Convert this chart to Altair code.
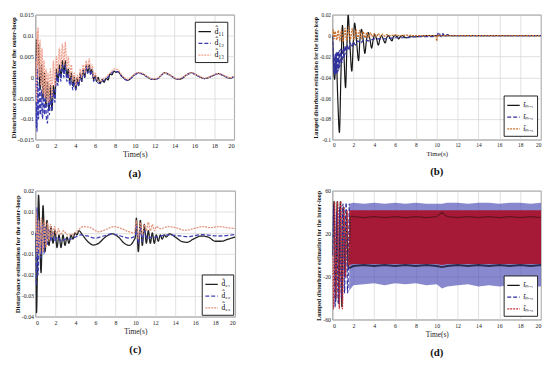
import altair as alt
import pandas as pd

FONT = "Liberation Serif"
X_TICKS = [0, 2, 4, 6, 8, 10, 12, 14, 16, 18, 20]

# ---------------- panel (a) ----------------
A_NAMES = ["d\u0302\u2081\u2081", "d\u0302\u2081\u2082", "d\u0302\u2081\u2083"]
A_YTICKS = [-0.015, -0.01, -0.005, 0, 0.005, 0.01, 0.015]
A_D11 = [(0, 0), (0.1, 0.009), (0.2, 0.003), (0.3, 0.008), (0.45, -0.003), (0.6, 0.003), (0.75, -0.005),
         (0.9, 0.001), (1.05, -0.007), (1.2, -0.001), (1.35, -0.008), (1.5, -0.002), (1.65, -0.008),
         (1.8, -0.002), (1.95, -0.005), (2.1, 0.002), (2.25, -0.001), (2.4, 0.003), (2.55, 0.0),
         (2.7, 0.004), (2.85, 0.001), (3.0, 0.004), (3.15, 0.0), (3.3, 0.002), (3.45, -0.001),
         (3.6, 0.001), (3.75, -0.002), (3.9, 0.0), (4.05, -0.003), (4.2, 0.0), (4.35, -0.002),
         (4.5, 0.001), (4.65, -0.001), (4.8, 0.002), (4.95, 0.0), (5.1, 0.003), (5.25, 0.001),
         (5.4, 0.003), (5.55, 0.001), (5.7, 0.002), (5.85, -0.0005), (6.0, 0.0005), (6.15, -0.001),
         (6.3, 0.0), (6.5, -0.0015), (6.7, -0.0005), (6.9, -0.0012), (7.1, -0.0003), (7.3, -0.0006),
         (7.5, 0.0008), (7.7, 0.0006), (7.9, 0.0015), (8.1, 0.0012), (8.3, 0.0014), (8.6, 0.0005),
         (9.0, -0.0004), (9.3, -0.0007), (9.6, -0.0002), (10.0, 0.0007), (10.4, 0.0011), (10.8, 0.0008),
         (11.3, 0.0), (11.8, -0.0005), (12.3, -0.0003), (12.6, 0.0004), (13.0, 0.0011), (13.5, 0.0006),
         (14.0, -0.0002), (14.3, -0.0005), (14.8, -0.0002), (15.2, 0.0006), (15.7, 0.0011), (16.3, 0.0004),
         (17.0, -0.0003), (17.5, 0.0), (18.0, 0.0006), (18.4, 0.0009), (19.0, 0.0003), (19.6, -0.0002),
         (20.0, 0.0002)]
A_D12 = [(0, 0), (0.05, -0.012), (0.1, 0.005), (0.15, -0.013), (0.2, 0.002), (0.3, -0.01), (0.4, -0.002),
         (0.5, -0.009), (0.6, -0.003), (0.7, -0.01), (0.8, -0.004), (0.9, -0.009), (1.0, -0.004),
         (1.1, -0.01), (1.2, -0.011), (1.3, -0.005), (1.4, -0.009), (1.5, -0.004), (1.65, -0.008),
         (1.8, -0.003), (1.95, -0.006), (2.1, 0.001), (2.25, -0.002), (2.4, 0.002), (2.55, -0.001),
         (2.7, 0.003), (2.85, 0.0), (3.0, 0.003), (3.15, -0.001), (3.3, 0.001), (3.45, -0.002),
         (3.6, 0.0), (3.75, -0.003), (3.9, -0.001), (4.05, -0.003), (4.2, -0.001), (4.35, -0.002),
         (4.5, 0.0005), (4.65, -0.001), (4.8, 0.0015), (4.95, 0.0), (5.1, 0.0025), (5.25, 0.001),
         (5.4, 0.0025), (5.55, 0.0005), (5.7, 0.0015), (5.85, -0.001), (6.0, 0.0), (6.2, -0.0012),
         (6.5, -0.0015), (6.8, -0.0008), (7.1, -0.0005), (7.5, 0.0007), (7.9, 0.0014), (8.3, 0.0013),
         (8.6, 0.0004), (9.0, -0.0005), (9.3, -0.0007), (9.6, -0.0002), (10.0, 0.0006), (10.4, 0.001),
         (10.8, 0.0007), (11.3, 0.0), (11.8, -0.0005), (12.3, -0.0003), (13.0, 0.001), (13.5, 0.0005),
         (14.3, -0.0005), (15.0, 0.0002), (15.7, 0.001), (16.3, 0.0004), (17.0, -0.0003), (18.4, 0.0008),
         (19.6, -0.0002), (20.0, 0.0002)]
A_D13 = [(0, 0), (0.05, 0.004), (0.1, -0.006), (0.15, 0.011), (0.2, 0.003), (0.25, 0.012), (0.35, 0.0),
         (0.45, 0.009), (0.55, -0.002), (0.65, 0.007), (0.75, -0.004), (0.85, 0.004), (0.95, -0.005),
         (1.05, 0.002), (1.15, -0.006), (1.25, 0.001), (1.35, -0.006), (1.5, 0.002), (1.65, -0.005),
         (1.8, 0.004), (1.95, -0.002), (2.1, 0.005), (2.25, 0.001), (2.4, 0.007), (2.55, 0.002),
         (2.7, 0.008), (2.85, 0.003), (3.0, 0.0085), (3.15, 0.002), (3.3, 0.005), (3.45, 0.0),
         (3.6, 0.003), (3.75, -0.001), (3.9, 0.001), (4.05, -0.002), (4.2, 0.0005), (4.35, -0.001),
         (4.5, 0.002), (4.65, 0.0), (4.8, 0.003), (4.95, 0.001), (5.1, 0.004), (5.25, 0.002),
         (5.4, 0.0045), (5.55, 0.002), (5.7, 0.003), (5.85, 0.0), (6.0, 0.001), (6.2, -0.0005),
         (6.5, -0.001), (6.8, -0.0003), (7.1, 0.0), (7.5, 0.001), (7.9, 0.002), (8.3, 0.0018),
         (8.6, 0.0008), (9.0, -0.0002), (9.3, -0.0005), (9.6, 0.0), (10.0, 0.0008), (10.4, 0.0012),
         (10.8, 0.0009), (11.3, 0.0001), (11.8, -0.0004), (12.3, -0.0002), (13.0, 0.0011), (13.5, 0.0006),
         (14.3, -0.0004), (15.0, 0.0003), (15.7, 0.0011), (16.3, 0.0005), (17.0, -0.0002), (18.4, 0.0009),
         (19.6, -0.0001), (20.0, 0.0003)]

# ---------------- panel (b) ----------------
B_NAMES = ["f\u0302\u2098\u2091\u2081", "f\u0302\u2098\u2091\u2082", "f\u0302\u2098\u2091\u2083"]
B_YTICKS = [-0.1, -0.08, -0.06, -0.04, -0.02, 0, 0.02]
B_F1 = [(0, 0), (0.1, -0.03), (0.2, -0.042), (0.35, -0.02), (0.5, -0.06), (0.66, -0.093), (0.8, -0.04),
        (0.95, 0.01), (1.1, -0.02), (1.25, -0.05), (1.38, -0.01), (1.5, 0.02), (1.65, -0.005),
        (1.85, -0.034), (2.0, -0.005), (2.12, 0.012), (2.3, -0.005), (2.5, -0.024), (2.62, -0.005),
        (2.78, 0.006), (2.95, -0.005), (3.1, -0.017), (3.25, -0.005), (3.42, 0.003), (3.6, -0.004),
        (3.75, -0.012), (3.9, -0.004), (4.05, 0.001), (4.22, -0.003), (4.4, -0.009), (4.55, -0.003),
        (4.7, 0.0), (4.85, -0.003), (5.05, -0.007), (5.2, -0.002), (5.35, 0.0), (5.5, -0.002),
        (5.7, -0.005), (5.85, -0.001), (6.0, 0.0), (6.2, -0.001), (6.35, -0.003), (6.5, -0.001),
        (6.7, 0.0), (7.0, -0.002), (7.5, -0.001), (8.0, -0.001), (9.0, 0.0), (10.0, 0.0), (20.0, 0.0)]
B_F2 = [(0, 0), (0.05, -0.01), (0.1, -0.035), (0.15, -0.02), (0.2, -0.038), (0.25, -0.018), (0.3, -0.037),
        (0.35, -0.016), (0.4, -0.036), (0.45, -0.015), (0.5, -0.035), (0.55, -0.015), (0.6, -0.033),
        (0.65, -0.014), (0.7, -0.03), (0.8, -0.013), (0.9, -0.026), (1.0, -0.012), (1.1, -0.022),
        (1.2, -0.01), (1.3, -0.018), (1.4, -0.009), (1.55, -0.014), (1.7, -0.007), (1.85, -0.011),
        (2.0, -0.006), (2.2, -0.009), (2.4, -0.005), (2.7, -0.007), (3.0, -0.004), (3.5, -0.005),
        (4.0, -0.003), (5.0, -0.003), (6.0, -0.002), (7.0, -0.002), (8.0, -0.001), (9.5, -0.001),
        (10.0, 0.0), (10.2, 0.003), (10.4, -0.001), (10.6, 0.002), (10.8, -0.001), (11.0, 0.001),
        (11.5, 0.0), (13.0, 0.0), (20.0, 0.0)]
B_F3 = [(0, 0), (0.05, 0.006), (0.15, -0.003), (0.25, 0.004), (0.4, -0.004), (0.55, 0.005), (0.7, -0.005),
        (0.85, 0.006), (1.0, -0.006), (1.2, 0.007), (1.35, -0.005), (1.55, 0.008), (1.7, -0.004),
        (1.9, 0.007), (2.05, -0.004), (2.25, 0.006), (2.4, -0.003), (2.6, 0.005), (2.75, -0.003),
        (2.95, 0.004), (3.1, -0.002), (3.3, 0.003), (3.45, -0.002), (3.65, 0.003), (3.8, -0.001),
        (4.0, 0.002), (4.2, -0.001), (4.4, 0.002), (4.6, -0.001), (4.8, 0.0015), (5.0, -0.0005),
        (5.2, 0.001), (5.5, 0.0), (6.0, 0.0008), (6.5, 0.0), (7.0, 0.0005), (8.0, 0.0), (9.9, 0.0),
        (10.0, -0.005), (10.1, 0.001), (10.3, 0.0), (20.0, 0.0)]

# ---------------- panel (c) ----------------
C_NAMES = ["d\u0302\u2082\u2081", "d\u0302\u2082\u2082", "d\u0302\u2082\u2083"]
C_YTICKS = [-0.04, -0.03, -0.02, -0.01, 0, 0.01, 0.02]
C_D21 = [(0, 0), (0.1, -0.038), (0.3, 0.018), (0.55, -0.019), (0.75, 0.013), (0.95, -0.009), (1.15, 0.006),
         (1.35, -0.006), (1.55, 0.003), (1.75, -0.005), (1.95, 0.001), (2.15, -0.007), (2.35, -0.001),
         (2.55, -0.007), (2.75, -0.001), (2.95, -0.006), (3.15, -0.002), (3.35, -0.005), (3.55, -0.001),
         (3.75, -0.003), (3.95, 0.0), (4.15, -0.001), (4.35, 0.001), (4.7, -0.001), (5.2, -0.004),
         (5.8, -0.0058), (6.3, -0.005), (7.0, -0.002), (7.7, -0.0005), (8.3, -0.002), (8.9, -0.005),
         (9.4, -0.006), (9.8, -0.004), (10.0, -0.002), (10.1, 0.007), (10.3, -0.009), (10.5, 0.006),
         (10.7, -0.006), (10.9, 0.004), (11.1, -0.005), (11.3, 0.001), (11.5, -0.005), (11.7, 0.0),
         (11.9, -0.005), (12.1, -0.001), (12.3, -0.004), (12.5, -0.001), (12.7, -0.003), (12.9, -0.001),
         (13.1, -0.002), (13.4, -0.0005), (14.0, -0.002), (14.6, -0.004), (15.2, -0.0045), (15.8, -0.003),
         (16.6, -0.0015), (17.3, -0.002), (18.0, -0.004), (18.6, -0.004), (19.3, -0.003), (20.0, -0.002)]
C_D22 = [(0, 0), (0.05, -0.025), (0.15, 0.012), (0.25, -0.02), (0.4, 0.005), (0.55, -0.012), (0.7, 0.004),
         (0.85, -0.01), (1.0, 0.003), (1.15, -0.006), (1.3, 0.002), (1.5, -0.004), (1.7, 0.0), (1.9, -0.004),
         (2.2, -0.002), (2.6, -0.004), (3.0, -0.003), (3.5, -0.003), (4.0, -0.002), (4.5, -0.001),
         (5.2, -0.0015), (6.0, -0.0025), (6.8, -0.0015), (7.7, -0.0005), (8.5, -0.0015), (9.4, -0.0025),
         (10.0, -0.0015), (10.1, 0.004), (10.3, -0.005), (10.5, 0.003), (10.7, -0.004), (10.9, 0.001),
         (11.2, -0.003), (11.6, -0.002), (12.2, -0.002), (13.0, -0.001), (14.0, -0.0012), (15.2, -0.0018),
         (16.7, -0.0008), (18.3, -0.0015), (20.0, -0.0008)]
C_D23 = [(0, 0), (0.05, 0.01), (0.15, -0.01), (0.3, 0.006), (0.45, -0.01), (0.6, 0.007), (0.75, -0.009),
         (0.9, 0.006), (1.05, -0.007), (1.2, 0.005), (1.35, -0.004), (1.5, 0.004), (1.7, -0.002),
         (1.9, 0.003), (2.1, -0.001), (2.3, 0.002), (2.5, -0.001), (2.8, 0.001), (3.2, -0.001),
         (3.6, -0.001), (4.2, 0.001), (4.8, 0.003), (5.5, 0.0025), (6.3, 0.0005), (7.0, 0.0015),
         (7.9, 0.003), (8.6, 0.002), (9.4, 0.0005), (9.9, 0.0), (10.1, 0.006), (10.3, -0.003),
         (10.5, 0.005), (10.7, -0.001), (10.9, 0.004), (11.1, 0.001), (11.3, 0.005), (11.5, 0.001),
         (11.7, 0.004), (11.9, 0.001), (12.1, 0.003), (12.5, 0.002), (13.3, 0.003), (14.0, 0.0025),
         (15.0, 0.0012), (15.8, 0.002), (16.8, 0.003), (17.5, 0.0025), (18.3, 0.003), (19.2, 0.0025),
         (20.0, 0.002)]

# ---------------- panel (d) ----------------
D_NAMES = ["f\u0302\u2098\u2091\u2081 ", "f\u0302\u2098\u2091\u2082 ", "f\u0302\u2098\u2091\u2083 "]
D_YTICKS = [-60, -40, -20, 0, 20, 40, 60]
D_F1 = [(0, 0), (0.15, 50), (0.3, -43), (0.45, 50), (0.6, -45), (0.75, 50), (0.9, -48), (1.05, 45),
        (1.2, -20), (1.35, 40), (1.5, -12), (1.7, 36)]
D_F2 = [(0, 0), (0.1, 45), (0.25, -48), (0.4, 40), (0.55, -45), (0.7, 45), (0.85, -40), (1.0, 48),
        (1.15, -35), (1.3, 49), (1.45, -35), (1.6, 48)]
D_F3 = [(0, 0), (0.1, -50), (0.2, 50), (0.35, -40), (0.5, 50), (0.65, -50), (0.8, 50), (0.95, -50),
        (1.1, 45), (1.25, -20), (1.4, 42), (1.55, -10), (1.7, 42)]
D_T = [1.6, 2, 3, 4, 5, 6, 7, 8, 9, 10, 10.5, 11, 12, 13, 14, 15, 16, 17, 18, 19, 20]
D_BLUE_HI = [48, 49, 48, 49, 48, 49, 48, 49, 48, 48, 48, 49, 49, 48, 49, 49, 48, 49, 49, 48, 49]
D_BLUE_LO = [-33, -28, -27, -26, -28, -26, -27, -26, -28, -27, -31, -29, -28, -27, -29, -28, -29, -28, -29, -29, -29]
D_RED_HI = [42, 42, 42, 42, 42, 42, 42, 42, 42, 42, 42, 42, 42, 42, 42, 42, 42, 42, 42, 42, 42]
D_RED_LO = [-9, -8, -8, -8, -8, -8, -8, -8, -8, -8, -9, -8, -8, -8, -8, -8, -8, -8, -8, -8, -8]
D_BLACK_HI = [37, 36, 35, 36, 35, 36, 35, 36, 35, 36, 40, 36, 35, 36, 35, 36, 35, 36, 35, 36, 35]
D_BLACK_LO = [-12, -10, -9, -10, -9, -10, -9, -10, -9, -10, -11, -10, -9, -10, -9, -10, -9, -10, -9, -10, -9]

YT_OUT = "Disturbance estimation for the outer-loop"
YT_IN = "Lumped disturbance estimation for the inner-loop"


def lines_df(names, series):
    rows = []
    for n, pts in zip(names, series):
        for i, (t, v) in enumerate(pts):
            rows.append({"t": t, "v": v, "s": n, "i": i})
    return pd.DataFrame(rows)


def encodings(ydom, yticks, ytitle, fs, tfs):
    x = alt.X("t:Q", scale=alt.Scale(domain=[0, 20], nice=False),
              axis=alt.Axis(values=X_TICKS, title="Time(s)", labelFont=FONT, labelFontSize=fs,
                            titleFont=FONT, titleFontSize=fs + 1.5, titleFontWeight="normal",
                            titlePadding=2, labelPadding=3, ticks=False, domain=False,
                            gridColor="#d4d4d4", gridWidth=0.7, labelColor="#222", titleColor="#222"))
    y = alt.Y("v:Q", scale=alt.Scale(domain=ydom, nice=False, zero=False),
              axis=alt.Axis(values=yticks, labelExpr="'' + datum.value", title=ytitle,
                            labelFont=FONT, labelFontSize=fs, titleFont=FONT, titleFontSize=tfs,
                            titleFontWeight="bold", titlePadding=1, labelPadding=2, ticks=False,
                            domain=False, gridColor="#d4d4d4", gridWidth=0.7, labelColor="#222",
                            titleColor="#111"))
    return x, y


def line_layer(df, names, colors, dashes, widths, x, y, orient, offset, lfs):
    lg = alt.Legend(title=None, orient=orient, offset=offset, padding=3, strokeColor="#222",
                    fillColor="white", labelFont=FONT, labelFontSize=lfs, symbolSize=160,
                    symbolStrokeWidth=1.3, rowPadding=1, labelOffset=3)
    return alt.Chart(df).mark_line(clip=True, interpolate="monotone").encode(
        x=x, y=y,
        color=alt.Color("s:N", scale=alt.Scale(domain=names, range=colors), legend=lg),
        strokeDash=alt.StrokeDash("s:N", scale=alt.Scale(domain=names, range=dashes), legend=lg),
        strokeWidth=alt.StrokeWidth("s:N", scale=alt.Scale(domain=names, range=widths), legend=None),
        order="i:Q",
    )


def caption(txt):
    return alt.TitleParams(txt, orient="bottom", font=FONT, fontSize=11, fontWeight="bold",
                           offset=9, anchor="middle", frame="group", color="#111")


DASHES = [[1, 0], [4, 2], [2, 1]]

# (a)
xa, ya = encodings([-0.015, 0.015], A_YTICKS, YT_OUT, 6.5, 7)
pa = line_layer(lines_df(A_NAMES, [A_D11, A_D12, A_D13]), A_NAMES,
                ["#151515", "#3a3ab2", "#f0a290"], DASHES, [1.2, 1.3, 0.9], xa, ya, "top-right", 7, 8
                ).properties(width=202, height=127, title=caption("(a)"))

# (b)
xb, yb = encodings([-0.1, 0.02], B_YTICKS, YT_IN, 5.5, 5.8)
pb = line_layer(lines_df(B_NAMES, [B_F1, B_F2, B_F3]), B_NAMES,
                ["#151515", "#3333a0", "#c8702f"], DASHES, [1.2, 1.3, 1.1], xb, yb, "bottom-right", 4, 6.5
                ).properties(width=212, height=127, title=caption("(b)"))

# (c)
xc, yc = encodings([-0.04, 0.02], C_YTICKS, YT_OUT, 6, 6.8)
pc = line_layer(lines_df(C_NAMES, [C_D21, C_D22, C_D23]), C_NAMES,
                ["#222222", "#4040b4", "#e2957c"], DASHES, [1.3, 1.3, 1.0], xc, yc, "bottom-right", 2, 7.5
                ).properties(width=203, height=128, title=caption("(c)"))

# (d)
xd, yd = encodings([-60, 60], D_YTICKS, YT_IN, 6, 6.2)
band = pd.DataFrame({"t": D_T, "bh": D_BLUE_HI, "bl": D_BLUE_LO, "rh": D_RED_HI, "rl": D_RED_LO,
                     "kh": D_BLACK_HI, "kl": D_BLACK_LO})
blue_area = alt.Chart(band).mark_area(color="#4848b4", opacity=0.65, clip=True).encode(
    x=xd, y=alt.Y("bh:Q", title=YT_IN), y2="bl:Q")
red_area = alt.Chart(band).mark_area(color="#a8142e", opacity=0.95, clip=True).encode(
    x=xd, y=alt.Y("rh:Q", title=YT_IN), y2="rl:Q")
blk_hi = alt.Chart(band).mark_line(color="#3a1010", strokeWidth=1.3, opacity=0.6, clip=True).encode(
    x=xd, y=alt.Y("kh:Q", title=YT_IN))
blk_lo = alt.Chart(band).mark_line(color="#151530", strokeWidth=2.0, opacity=0.8, clip=True).encode(
    x=xd, y=alt.Y("kl:Q", title=YT_IN))
d_lines = line_layer(lines_df(D_NAMES, [D_F1, D_F2, D_F3]), D_NAMES,
                     ["#151515", "#2a2a9c", "#c0303a"], DASHES, [1.2, 1.2, 1.0], xd, yd, "bottom-right", 4, 6.5)
pd_ = alt.layer(blue_area, red_area, blk_hi, blk_lo, d_lines).properties(
    width=212, height=131, title=caption("(d)"))

chart = alt.concat(pa, pb, pc, pd_, columns=2, bounds="flush",
                   spacing=alt.RowColnumber(row=52, column=99)).resolve_scale(
    color="independent", strokeDash="independent", strokeWidth="independent"
).properties(padding=0, background="white").configure_view(stroke="#555", strokeWidth=0.8)

chart.save("out.html", embed_options={"renderer": "svg", "actions": False})
